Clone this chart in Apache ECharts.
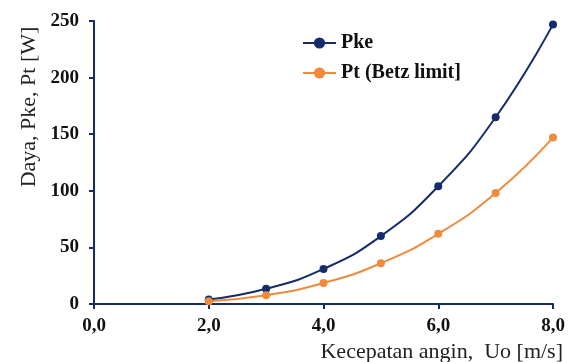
<!DOCTYPE html>
<html>
<head>
<meta charset="utf-8">
<script src="https://cdn.jsdelivr.net/npm/echarts@6/dist/echarts.min.js"></script>
<style>
  body { margin: 0; background: #fff; }
  #chart { width: 575px; height: 362px; }
</style>
</head>
<body>
<div id="chart"></div>
<script>
// kecepatan angin [m/s]
const speed = [2, 3, 4, 5, 6, 7, 8];
// daya [W]
const pke = [4, 13.5, 31, 60, 104, 165, 247];
const pt = [2.5, 7.8, 18.5, 36, 62, 98, 147];

const navy = '#142c6b';
const orange = '#f08a3c';
const serif = '"Liberation Serif", "DejaVu Serif", serif';

let myChart = echarts.init(document.getElementById('chart'));
myChart.setOption({
  animation: false,
  grid: {
    left: 94,
    right: 22,
    top: 21,
    bottom: 58
  },
  // judul sumbu
  graphic: [
    {
      type: 'text',
      x: 29,
      y: 107,
      rotation: Math.PI / 2,
      style: {
        text: 'Daya, Pke, Pt [W]',
        font: '22px ' + serif,
        fill: '#222',
        align: 'center',
        verticalAlign: 'middle'
      }
    },
    {
      type: 'text',
      x: 563,
      y: 352,
      style: {
        text: 'Kecepatan angin,  Uo [m/s]',
        font: '22px ' + serif,
        fill: '#222',
        align: 'right',
        verticalAlign: 'middle'
      }
    }
  ],
  legend: {
    orient: 'vertical',
    left: 297,
    top: 28,
    itemGap: 10,
    itemWidth: 33,
    itemHeight: 14,
    textStyle: {
      fontFamily: serif,
      fontWeight: 'bold',
      fontSize: 20,
      color: '#111'
    },
    data: ['Pke', 'Pt (Betz limit]']
  },
  xAxis: {
    type: 'value',
    min: 0,
    max: 8,
    interval: 2,
    splitLine: { show: false },
    axisLine: { lineStyle: { color: navy, width: 2 } },
    axisTick: { show: true, length: 5, lineStyle: { color: navy, width: 2 } },
    axisLabel: {
      fontFamily: serif,
      fontWeight: 'bold',
      fontSize: 19,
      color: '#111',
      margin: 13,
      formatter: v => v.toFixed(1).replace('.', ',')
    }
  },
  yAxis: {
    type: 'value',
    min: 0,
    max: 250,
    interval: 50,
    splitLine: { show: false },
    axisLine: { show: true, lineStyle: { color: navy, width: 2 } },
    axisTick: { show: true, length: 5, lineStyle: { color: navy, width: 2 } },
    axisLabel: {
      fontFamily: serif,
      fontWeight: 'bold',
      fontSize: 19,
      color: '#111',
      margin: 15
    }
  },
  series: [
    {
      name: 'Pke',
      type: 'line',
      smooth: true,
      symbol: 'circle',
      symbolSize: 8,
      data: speed.map((x, i) => [x, pke[i]]),
      itemStyle: { color: navy },
      lineStyle: { color: navy, width: 2 }
    },
    {
      name: 'Pt (Betz limit]',
      type: 'line',
      smooth: true,
      symbol: 'circle',
      symbolSize: 8,
      data: speed.map((x, i) => [x, pt[i]]),
      itemStyle: { color: orange },
      lineStyle: { color: orange, width: 2 }
    }
  ]
});
</script>
</body>
</html>
